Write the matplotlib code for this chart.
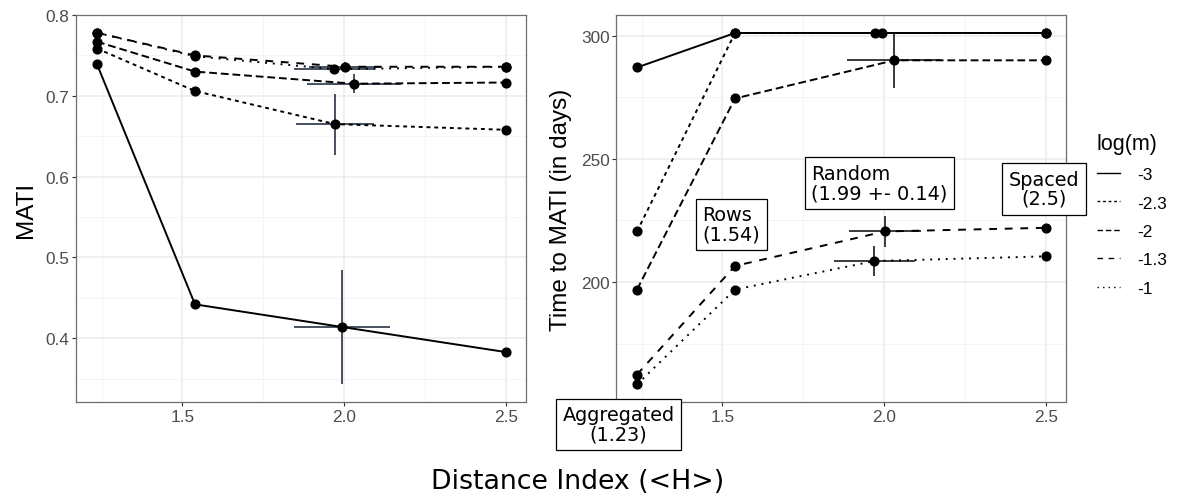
import numpy as np
import matplotlib
matplotlib.use("Agg")
from matplotlib import pyplot as plt
from matplotlib.lines import Line2D

# series labels, one per log(m) value
LOG_M = ['-3', '-2.3', '-2', '-1.3', '-1']
DASHES = {'-3': None, '-2.3': (2, 2), '-2': (4, 2), '-1.3': (4, 4), '-1': (1, 3)}

# distance index of the four layouts
X_AGG = 1.236
X_ROWS = 1.539
X_SPACED = 2.5
X_RANDOM = [1.994, 1.972, 2.031, 2.002, 1.970]
X_RANDOM_ERR = [0.148, 0.120, 0.145, 0.112, 0.125]

# MATI values per series (agg, rows, random, spaced)
MATI = {
    '-3':   [0.739, 0.442, 0.414, 0.383],
    '-2.3': [0.7585, 0.706, 0.665, 0.658],
    '-2':   [0.767, 0.730, 0.715, 0.7165],
    '-1.3': [0.778, 0.750, 0.736, 0.736],
    '-1':   [0.778, 0.749, 0.733, 0.736],
}
MATI_ERR = [0.071, 0.0377, 0.0117, 0.006, 0.004]

# time to MATI in days
DAYS = {
    '-3':   [287.1, 301.1, 301.1, 301.1],
    '-2.3': [220.5, 301.1, 301.1, 301.1],
    '-2':   [196.9, 274.5, 290.0, 290.0],
    '-1.3': [162.4, 206.5, 220.5, 222.0],
    '-1':   [158.4, 196.9, 208.5, 210.4],
}
DAYS_ERR = [0.0, 0.0, 11.2, 6.4, 6.1]

LABELS = ['Aggregated\n(1.23)', 'Rows\n(1.54)', 'Random\n(1.99 +- 0.14)', 'Spaced\n(2.5)']
LABEL_X = [1.179, 1.528, 1.986, 2.494]
LABEL_Y = [142.2, 223.4, 240.1, 237.8]
LABEL_ALIGN = ['center', 'left', 'left', 'center']

SANS = 'Liberation Sans'
TICK_COL = '#4D4D4D'


def style_axes(ax, ylim, yticks, yminor):
    ax.set_xlim(1.1724, 2.5632)
    ax.set_ylim(*ylim)
    ax.set_xticks([1.5, 2.0, 2.5])
    ax.set_xticks([1.25, 1.75, 2.25], minor=True)
    ax.set_yticks(yticks)
    ax.set_yticks(yminor, minor=True)
    ax.grid(True, which='major', color='#EBEBEB', lw=1.1, zorder=0)
    ax.grid(True, which='minor', color='#F3F3F3', lw=0.6, zorder=0)
    ax.set_axisbelow(True)
    for s in ax.spines.values():
        s.set_color('#6E6E6E')
        s.set_linewidth(0.9)
    ax.tick_params(which='major', length=3, width=0.8, color='#333333',
                   labelcolor=TICK_COL, labelsize=12.4, pad=2)
    ax.tick_params(which='minor', length=0)
    for lab in ax.get_xticklabels() + ax.get_yticklabels():
        lab.set_fontfamily(SANS)


def draw_series(ax, values, yerr, ebcol):
    for i, key in enumerate(LOG_M):
        xs = [X_AGG, X_ROWS, X_RANDOM[i], X_SPACED]
        ys = values[key]
        ln, = ax.plot(xs, ys, color='black', lw=1.4, zorder=3)
        if DASHES[key] is not None:
            ln.set_dashes(DASHES[key])
        ax.errorbar(X_RANDOM[i], ys[2], xerr=X_RANDOM_ERR[i],
                    yerr=yerr[i] if yerr[i] > 0 else None,
                    fmt='none', ecolor=ebcol, elinewidth=1.4, capsize=0, zorder=2)
        ax.plot(xs, ys, 'o', color='black', ms=6.3, zorder=4)


fig = plt.figure(figsize=(11.78, 5.02), dpi=100)
ax1 = fig.add_axes([0.0649, 0.1972, 0.3818, 0.7709])
ax2 = fig.add_axes([0.5233, 0.1972, 0.3818, 0.7709])

draw_series(ax1, MATI, MATI_ERR, '#46505E')
style_axes(ax1, (0.3212, 0.8), [0.4, 0.5, 0.6, 0.7, 0.8],
           [0.35, 0.45, 0.55, 0.65, 0.75])
ax1.set_ylabel('MATI', fontsize=17.5, family=SANS, labelpad=6)

draw_series(ax2, DAYS, DAYS_ERR, '#3A3A3A')
style_axes(ax2, (151.25, 308.4), [200, 250, 300], [175, 225, 275])
ax2.set_ylabel('Time to MATI (in days)', fontsize=17.5, family=SANS, labelpad=6)

for txt, lx, ly, al in zip(LABELS, LABEL_X, LABEL_Y, LABEL_ALIGN):
    ax2.text(lx, ly, txt, ha='center', va='center', multialignment=al,
             fontsize=13.9, family='DejaVu Sans', linespacing=1.0, zorder=6,
             clip_on=False,
             bbox=dict(boxstyle='square,pad=0.35', fc='white', ec='black', lw=0.9))

fig.text(0.490, 0.040, 'Distance Index (<H>)', ha='center', va='center',
         fontsize=19.3, family='DejaVu Sans')

handles = []
for key in LOG_M:
    h = Line2D([], [], color='black', lw=1.0)
    if DASHES[key] is not None:
        h.set_dashes(DASHES[key])
    handles.append(h)
leg = fig.legend(handles, LOG_M, title='log(m)', loc='upper left',
                 bbox_to_anchor=(0.931, 0.734), frameon=False,
                 handlelength=1.35, handletextpad=1.0, labelspacing=0.78,
                 prop={'family': SANS, 'size': 12.4},
                 title_fontproperties={'family': SANS, 'size': 15.5},
                 alignment='left', borderaxespad=0, borderpad=0)

fig.savefig('out.png', dpi=100)
